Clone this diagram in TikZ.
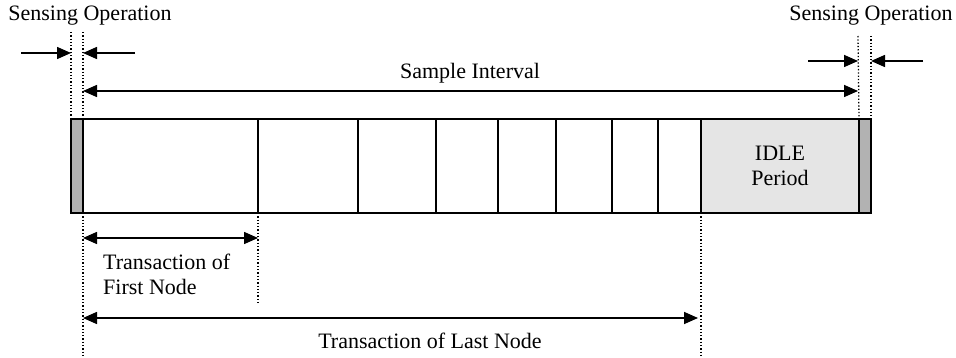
\documentclass[tikz,border=0pt]{standalone}
\usepackage{fontspec}
\setmainfont{Liberation Serif}
\usetikzlibrary{arrows.meta}
\begin{document}
\begin{tikzpicture}[x=1pt,y=-1pt,
  seg/.style={draw=black,line width=1.6pt,inner sep=0pt,outer sep=0pt,minimum height=94pt,anchor=north west},
  sens/.style={seg,fill=black!30},
  idle/.style={seg,fill=black!10,align=center,font=\fontsize{22}{26}\selectfont},
  guide/.style={line width=1.3pt,dotted},
  dim/.style={line width=1.6pt,-{Triangle[length=14pt,width=12pt]}},
  dimb/.style={line width=1.6pt,{Triangle[length=14pt,width=12pt]}-{Triangle[length=14pt,width=12pt]}},
  lbl/.style={font=\fontsize{22}{26}\selectfont,inner sep=0pt}]
\useasboundingbox (0,0) rectangle (956,358);
% segments
\node[sens,minimum width=12pt] (gl) at (71,119) {};
\node[seg,minimum width=175pt] (s1) at (83,119) {};
\node[seg,minimum width=100pt] (s2) at (258,119) {};
\node[seg,minimum width=78pt] (s3) at (358,119) {};
\node[seg,minimum width=62pt] (s4) at (436,119) {};
\node[seg,minimum width=58pt] (s5) at (498,119) {};
\node[seg,minimum width=56pt] (s6) at (556,119) {};
\node[seg,minimum width=46pt] (s7) at (612,119) {};
\node[seg,minimum width=43pt] (s8) at (658,119) {};
\node[idle,minimum width=158pt] (idle) at (701,119) {IDLE\\[-1pt]Period};
\node[sens,minimum width=12pt] (gr) at (859,119) {};
% labels
\node[lbl] (so1) at (90,16) {Sensing Operation};
\node[lbl] (so2) at (871,16) {Sensing Operation};
\node[lbl] (si) at (470,73) {Sample Interval};
\node[lbl,anchor=west,align=left] (tf) at (103,274) {Transaction of\\[-1pt]First Node};
\node[lbl] (tl) at (430,341) {Transaction of Last Node};
% guide coordinates
\coordinate (t1) at (71,32);
\coordinate (t2) at (83,32);
\coordinate (t3) at (858,36);
\coordinate (t4) at (871,36);
\coordinate (b1) at (83,358);
\coordinate (b2) at (258,304);
\coordinate (b3) at (701,358);
\draw[guide] (t1) -- (gl.north west);
\draw[guide] (t2) -- (gl.north east);
\draw[guide] (t3) -- (gr.north west);
\draw[guide] (t4) -- (gr.north east);
\draw[guide] (s1.south west) -- (b1);
\draw[guide] (s1.south east) -- (b2);
\draw[guide] (idle.south west) -- (b3);
% sensing arrows
\coordinate (a1s) at (21,53);  \coordinate (a1e) at (71,53);
\coordinate (a2s) at (135,53); \coordinate (a2e) at (83,53);
\coordinate (a3s) at (808,61); \coordinate (a3e) at (858,61);
\coordinate (a4s) at (923,61); \coordinate (a4e) at (871,61);
\draw[dim] (a1s) -- (a1e);
\draw[dim] (a2s) -- (a2e);
\draw[dim] (a3s) -- (a3e);
\draw[dim] (a4s) -- (a4e);
% interval arrows
\coordinate (sil) at (83,91); \coordinate (sir) at (858,91);
\draw[dimb] (sil) -- (sir);
\coordinate (tfl) at (83,238); \coordinate (tfr) at (258,238);
\draw[dimb] (tfl) -- (tfr);
\coordinate (tll) at (83,318); \coordinate (tlr) at (698,318);
\draw[dimb] (tll) -- (tlr);
\end{tikzpicture}
\end{document}
